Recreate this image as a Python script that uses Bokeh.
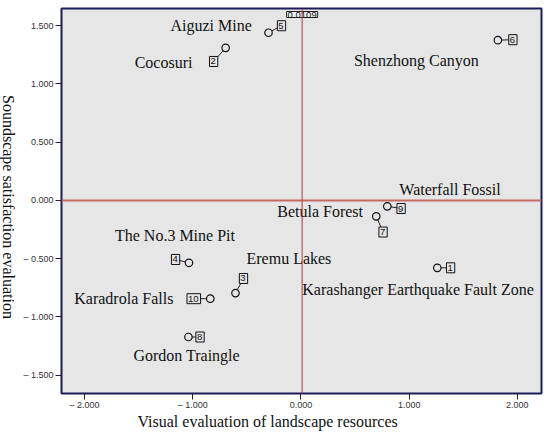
import math
from bokeh.plotting import figure
from bokeh.models import ColumnDataSource, Span, Title, FixedTicker, Div
from bokeh.layouts import row
from bokeh.core.properties import value
from bokeh.embed import file_html
from bokeh.resources import INLINE

# ---- data ----
site_ids = ["1", "2", "3", "4", "5", "6", "7", "8", "9", "10"]
site_names = ["Karashanger Earthquake Fault Zone", "Cocosuri", "Eremu Lakes",
              "The No.3 Mine Pit", "Aiguzi Mine", "Shenzhong Canyon",
              "Betula Forest", "Gordon Traingle", "Waterfall Fossil",
              "Karadrola Falls"]
visual_scores = [1.26, -0.696, -0.605, -1.035, -0.30, 1.82, 0.696, -1.04, 0.798, -0.838]
soundscape_scores = [-0.578, 1.31, -0.795, -0.535, 1.44, 1.376, -0.136, -1.172, -0.05, -0.843]
vline_value = 0.0109
hline_value = 0.0

x_ticks = [-2, -1, 0, 1, 2]
x_tick_labels = ["\u2013 2.000", "\u2013 1.000", "0.000", "1.000", "2.000"]
y_ticks = [-1.5, -1.0, -0.5, 0.0, 0.5, 1.0, 1.5]
y_tick_labels = ["\u2013 1.500", "\u2013 1.000", "\u2013 0.500", "0.000", "0.500", "1.000", "1.500"]

x_title = "Visual evaluation of landscape resources"
y_title = "Soundscape satisfaction evaluation"

# ---- layout (screen offsets in px) ----
name_dx = [-135, -91, 11, -74, -98, -144, -99, -55, 12, -136]
name_dy = [22, 15, -35, -27, -7, 20, -5, 18.5, -17, 0]
box_dx = [13.3, -12, 8, -13.4, 13, 15, 6.8, 11.6, 13.8, -16.5]
box_dy = [0, 13.6, -14.6, -3.3, -7, -0.5, 15.7, 0, 2.2, 0]

X0, X1 = -2.213, 2.223
Y0, Y1 = -1.657, 1.648
FRAME_W, FRAME_H = 480, 385
sx = FRAME_W / (X1 - X0)
sy = FRAME_H / (Y1 - Y0)

BG = "#e6e6e6"
LEFT_W = 16
B_LEFT, B_RIGHT, B_TOP, B_BOTTOM = 45, 4, 8, 44

p = figure(width=B_LEFT + FRAME_W + B_RIGHT, height=B_TOP + FRAME_H + B_BOTTOM,
           x_range=(X0, X1), y_range=(Y0, Y1),
           output_backend="svg", toolbar_location=None, title=None)
p.min_border = 0
p.min_border_left = B_LEFT
p.min_border_right = B_RIGHT
p.min_border_top = B_TOP
p.min_border_bottom = B_BOTTOM
p.background_fill_color = BG
p.border_fill_color = "white"
p.outline_line_color = "#1c1c5a"
p.outline_line_width = 2
p.grid.visible = False

for ax, ticks, labels in ((p.xaxis[0], x_ticks, x_tick_labels), (p.yaxis[0], y_ticks, y_tick_labels)):
    ax.ticker = FixedTicker(ticks=ticks)
    ax.major_label_overrides = {t: l for t, l in zip(ticks, labels)}
    ax.axis_line_color = None
    ax.major_tick_out = 6
    ax.major_tick_in = 0
    ax.minor_tick_line_color = None
    ax.major_tick_line_color = "#1c1c3a"
    ax.major_label_text_font = "Liberation Sans"
    ax.major_label_text_font_size = "9px"
    ax.major_label_text_color = "#333333"
p.xaxis.major_label_standoff = 0
p.yaxis.major_label_standoff = 2

# x axis title, left of frame centre as in the reference
p.add_layout(Title(text=x_title, align="left", offset=76, standoff=-4,
                   text_font="Liberation Serif", text_font_size="16px",
                   text_font_style="normal", text_color="#111111"), "below")

# reference lines
p.add_layout(Span(location=hline_value, dimension="width", line_color="#c46a66", line_width=2))
p.add_layout(Span(location=vline_value, dimension="height", line_color="#b83636", line_width=1))

bx = [x + dx / sx for x, dx in zip(visual_scores, box_dx)]
by = [y - dy / sy for y, dy in zip(soundscape_scores, box_dy)]
src = ColumnDataSource(dict(x=visual_scores, y=soundscape_scores, ids=site_ids,
                            names=site_names, ndx=name_dx, ndy=name_dy,
                            bdx=box_dx, bdy=box_dy, bx=bx, by=by))

# connectors
p.segment(x0="x", y0="y", x1="bx", y1="by", source=src, line_color="#222222", line_width=1)
# points
p.scatter(x="x", y="y", source=src, size=7.5, fill_color=BG, line_color="#111111", line_width=1.2)
# number boxes
p.text(x="x", y="y", text="ids", source=src, x_offset="bdx", y_offset="bdy",
       text_align="center", text_baseline="middle",
       text_font=value("Liberation Sans"), text_font_size="9.5px", text_color="#111111",
       background_fill_color=BG, border_line_color="#111111", border_line_width=1,
       padding=dict(left=1, right=2, top=2, bottom=2))
# site names
p.text(x="x", y="y", text="names", source=src, x_offset="ndx", y_offset="ndy",
       text_align="left", text_baseline="middle",
       text_font=value("Liberation Serif"), text_font_size="16px", text_color="#111111")

# value box on vertical line
vsrc = ColumnDataSource(dict(x=[vline_value], y=[Y1], t=[f"{vline_value:.4f}"]))
p.text(x="x", y="y", text="t", source=vsrc, y_offset=6, text_align="center",
       text_baseline="middle", text_font=value("Liberation Sans"), text_font_size="9.5px",
       text_color="#111111", background_fill_color="#f2f2f2",
       border_line_color="#222222", border_line_width=1,
       padding=dict(left=1, right=1, top=0, bottom=0))

# y axis title, reading top-to-bottom, in a narrow column left of the plot
ylab = Div(text=(f'<div style="writing-mode:vertical-rl; height:414px; width:{LEFT_W}px; '
                 'display:flex; justify-content:center; align-items:center; '
                 "font-family:'Liberation Serif'; font-size:16px; color:#111111; "
                 f'line-height:16px; white-space:nowrap;">{y_title}</div>'),
           width=LEFT_W, height=414, margin=0)

layout = row(ylab, p, spacing=0)
open("out.html", "w").write(file_html(layout, INLINE))
